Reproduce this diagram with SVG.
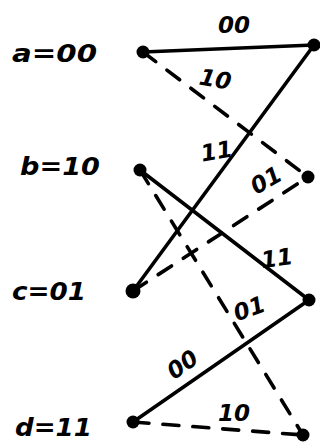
<svg xmlns="http://www.w3.org/2000/svg" width="320" height="443" viewBox="0 0 320 443">
<defs>
<style>
.bg{fill:#fff}
.solid{stroke:#000;stroke-width:3.6;stroke-linecap:round;fill:none}
.dash{stroke:#000;stroke-width:3.6;stroke-linecap:round;fill:none;stroke-dasharray:16 14}
.dot{fill:#000}
.state{font-family:"DejaVu Sans","Liberation Sans",sans-serif;font-weight:bold;font-style:oblique;font-size:25px;fill:#000}
.lbl{font-family:"DejaVu Sans","Liberation Sans",sans-serif;font-weight:bold;font-style:oblique;font-size:23px;fill:#000;text-anchor:middle}
</style>
</defs>
<rect class="bg" width="320" height="443"/>
<g id="connectors">
<line class="solid" x1="143" y1="52" x2="314" y2="45"/>
<line class="dash" x1="143" y1="52" x2="308" y2="177"/>
<line class="solid" x1="133" y1="291" x2="314" y2="45"/>
<line class="dash" x1="133" y1="291" x2="308" y2="177"/>
<line class="solid" x1="140" y1="170" x2="309" y2="300"/>
<line class="dash" x1="140" y1="170" x2="303" y2="435"/>
<line class="solid" x1="133" y1="422" x2="309" y2="300"/>
<line class="dash" x1="133" y1="422" x2="303" y2="435"/>
<text class="lbl" x="234" y="33">00</text>
<text class="lbl" transform="translate(214,87) rotate(10)">10</text>
<text class="lbl" transform="translate(218,159) rotate(-10)">11</text>
<text class="lbl" transform="translate(270,187) rotate(-30)">01</text>
<text class="lbl" transform="translate(278,266) rotate(-8)">11</text>
<text class="lbl" transform="translate(252,316) rotate(-20)">01</text>
<text class="lbl" transform="translate(187,371) rotate(-35)">00</text>
<text class="lbl" x="234" y="421">10</text>
</g>
<g id="node-a">
<text class="state" x="12" y="62" textLength="85" lengthAdjust="spacingAndGlyphs">a=00</text>
<circle class="dot" cx="143" cy="52" r="6.5"/>
</g>
<g id="node-b">
<text class="state" x="20" y="175" textLength="80" lengthAdjust="spacingAndGlyphs">b=10</text>
<circle class="dot" cx="140" cy="170" r="6.5"/>
</g>
<g id="node-c">
<text class="state" x="12" y="300" textLength="74" lengthAdjust="spacingAndGlyphs">c=01</text>
<circle class="dot" cx="133" cy="291" r="7.5"/>
</g>
<g id="node-d">
<text class="state" x="15" y="436" textLength="77" lengthAdjust="spacingAndGlyphs">d=11</text>
<circle class="dot" cx="133" cy="422" r="6.5"/>
</g>
<g id="node-a2"><circle class="dot" cx="314" cy="45" r="6.5"/></g>
<g id="node-b2"><circle class="dot" cx="308" cy="177" r="6.5"/></g>
<g id="node-c2"><circle class="dot" cx="309" cy="300" r="6.5"/></g>
<g id="node-d2"><circle class="dot" cx="303" cy="435" r="6.5"/></g>
</svg>
